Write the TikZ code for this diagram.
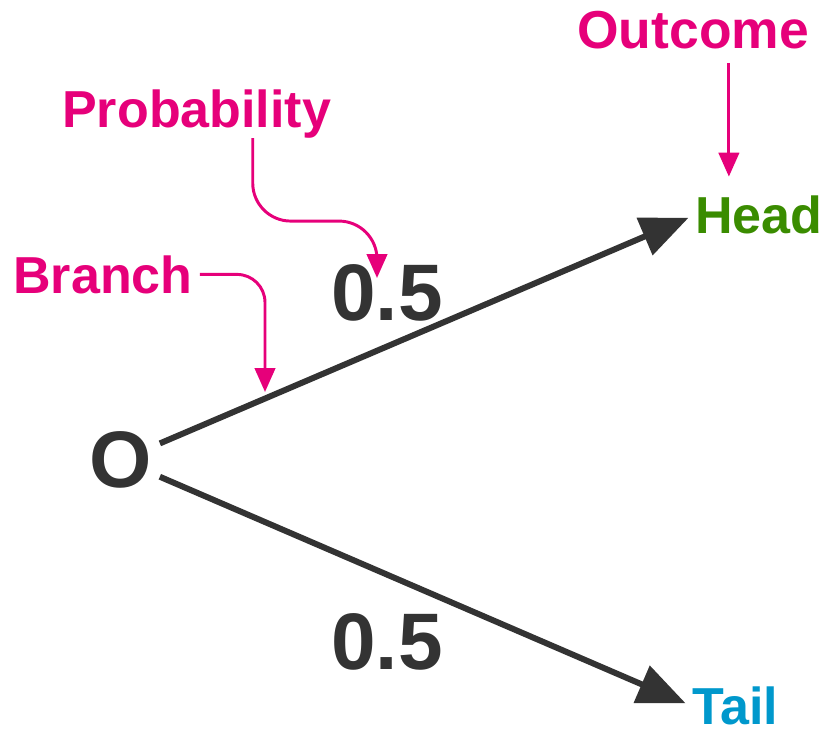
\documentclass[tikz,border=0pt]{standalone}
\usepackage{fontspec}
\setmainfont{Liberation Sans}
\usepackage{tikz}
\usetikzlibrary{positioning, arrows.meta, calc}
\definecolor{callpink}{RGB}{230, 0, 122}
\definecolor{headgreen}{RGB}{58, 140, 0}
\definecolor{tailblue}{RGB}{0, 152, 204}
\definecolor{inkgray}{RGB}{51, 51, 51}

\begin{document}
\begin{tikzpicture}[x=0.025cm, y=-0.025cm,
    bigtxt/.style={font=\fontsize{57}{64}\selectfont\bfseries, text=inkgray, inner sep=0pt},
    lbl/.style={font=\fontsize{37}{44}\selectfont\bfseries, text=callpink, inner sep=0pt},
    branchline/.style={line width=4.25pt, draw=inkgray, -{Triangle[length=34pt, width=28pt]}, shorten >=5pt},
    callout/.style={line width=2.1pt, draw=callpink, -{Triangle[length=17pt, width=14.5pt]}}]
\useasboundingbox (0,0) rectangle (824,731);
% tree
\node[bigtxt, circle] (O) at (121,460) {O};
\node[lbl, text=headgreen, anchor=west] (head) at (695,215) {Head};
\node[lbl, text=tailblue, anchor=west] (tail) at (692,706) {Tail};
\draw[branchline] (O) -- (head.west);
\draw[branchline] (O) -- (tail.west);
\node[bigtxt] (pup) at (387,293) {0.5};
\node[bigtxt] (pdown) at (387,642) {0.5};
% callouts
\node[lbl, font=\fontsize{38}{44}\selectfont\bfseries, anchor=base west] (outcome) at (577,48) {Outcome};
\node[lbl, anchor=base west] (prob) at (62,127) {Probability};
\node[lbl, anchor=base west] (branch) at (13,293) {Branch};
\coordinate (brpt) at (265,392);
\coordinate (probpt) at (377,278);
\draw[callout, shorten <=10pt, shorten >=13.5pt] ([xshift=-0.75cm]head.north |- outcome.south) -- ([xshift=-0.75cm]head.north);
\draw[callout, rounded corners=0.95cm] ([xshift=1.4cm]prob.south) -- ++(0,83) -| (probpt);
\draw[callout, rounded corners=0.7cm, shorten <=5pt] (branch.east) -| (brpt);
\end{tikzpicture}
\end{document}
